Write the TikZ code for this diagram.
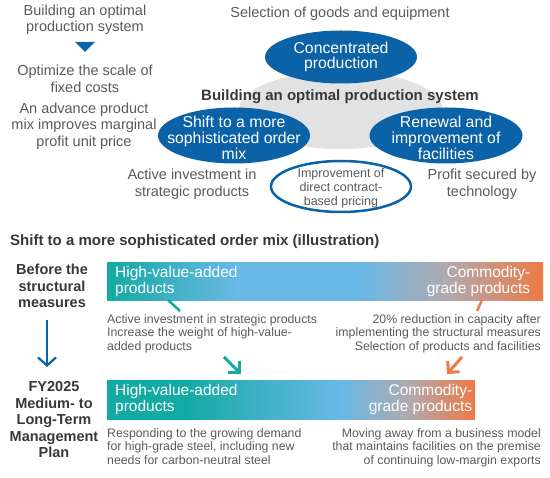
\documentclass[tikz,border=0pt]{standalone}
\usepackage{fontspec}
\setmainfont{Liberation Sans}
\usetikzlibrary{shapes.geometric,arrows.meta}
\definecolor{cblue}{HTML}{0B62A6}
\definecolor{cgray}{HTML}{E2E2E2}
\definecolor{ctext}{HTML}{5A5A5A}
\definecolor{cbold}{HTML}{383838}
\definecolor{cteal}{HTML}{12AAA2}
\definecolor{clblue}{HTML}{6BB9E6}
\definecolor{cmid}{HTML}{B0A9AE}
\definecolor{corange}{HTML}{EE7A45}
\pgfdeclarehorizontalshading{barA}{100bp}{color(0bp)=(cteal); color(25bp)=(cteal); color(40bp)=(clblue); color(54bp)=(clblue); color(64bp)=(cmid); color(75bp)=(corange); color(100bp)=(corange)}
\pgfdeclarehorizontalshading{barB}{100bp}{color(0bp)=(cteal); color(25bp)=(cteal); color(35bp)=(cteal); color(57bp)=(clblue); color(66bp)=(cmid); color(75bp)=(corange); color(100bp)=(corange)}
\tikzset{
  grtxt/.style={inner sep=0pt, align=center, text=ctext, font=\fontsize{14.5}{16.5}\selectfont},
  boldtxt/.style={inner sep=0pt, align=center, text=cbold, font=\bfseries\fontsize{14.5}{16.5}\selectfont},
  bigbold/.style={inner sep=0pt, align=center, text=cbold, font=\bfseries\fontsize{15}{16.5}\selectfont},
  smtxt/.style={inner sep=0pt, text=ctext, font=\fontsize{12.3}{13.8}\selectfont},
  blueell/.style={ellipse, fill=cblue, inner sep=0pt},
  elltxt/.style={inner sep=0pt, align=center, text=white, font=\fontsize{15.8}{15.8}\selectfont},
  bartxt/.style={inner sep=0pt, text=white, font=\fontsize{15.5}{16}\selectfont},
  barbox/.style={shade, inner sep=0pt, anchor=north west},
  tealarr/.style={draw=cteal, line width=3pt, -{Straight Barb[length=8pt,width=16pt]}},
  orarr/.style={draw=corange, line width=3pt, -{Straight Barb[length=8pt,width=16pt]}},
}
\begin{document}
\begin{tikzpicture}[x=1pt,y=-1pt]
\useasboundingbox (0,0) rectangle (550,478);
% ---- top diagram ----
\node[ellipse, fill=cgray, inner sep=0pt, minimum width=204pt, minimum height=78pt] (hub) at (341,110) {};
\node[blueell, minimum width=152pt, minimum height=53pt] (conc) at (341,57) {};
\node[elltxt] (conct) at (341,57) {Concentrated\\production};
\node[blueell, minimum width=152pt, minimum height=56pt] (shift) at (234,135.5) {};
\node[elltxt] (shiftt) at (234,138) {Shift to a more\\sophisticated order\\mix};
\node[blueell, minimum width=153pt, minimum height=56pt] (renew) at (446,135.5) {};
\node[elltxt] (renewt) at (446,138) {Renewal and\\improvement of\\facilities};
\node[ellipse, draw=cblue, line width=2.5pt, fill=white, inner sep=0pt, minimum width=140pt, minimum height=51pt] (impr) at (341,186.5) {};
\node[inner sep=0pt, align=center, text=ctext, font=\fontsize{12.5}{13.8}\selectfont] (imprt) at (341,188) {Improvement of\\direct contract-\\based pricing};
\node[bigbold] (hubt) at (340,97) {Building an optimal production system};
\node[grtxt] (sel) at (340,14) {Selection of goods and equipment};
\node[grtxt] (act) at (192,184.5) {Active investment in\\strategic products};
\node[grtxt] (prof) at (482,184.5) {Profit secured by\\technology};
% ---- left column ----
\node[grtxt] (bops) at (85,20) {Building an optimal\\production system};
\fill[cblue] (75,42) -- (95,42) -- (85,52) -- cycle;
\node[grtxt] (opt) at (85,79) {Optimize the scale of\\fixed costs};
\node[grtxt] (adv) at (84,126) {An advance product\\mix improves marginal\\profit unit price};
% ---- bottom section ----
\node[bigbold, anchor=west] (title) at (10,242) {Shift to a more sophisticated order mix (illustration)};
\node[boldtxt] (before) at (52,286) {Before the\\structural\\measures};
\node[boldtxt] (fy) at (54,420) {FY2025\\Medium- to\\Long-Term\\Management\\Plan};
\coordinate (ba1) at (47,320);
\coordinate (ba2) at (47,367);
\draw[draw=cblue, line width=2.3pt, -{Straight Barb[length=8pt,width=18pt]}] (ba1) -- (ba2);
% bar 1
\node[barbox, shading=barA, minimum width=436pt, minimum height=38pt] (barA) at (107,262) {};
\node[bartxt, anchor=west, align=left] (hvaA) at ([xshift=8pt]barA.west) {High-value-added\\products};
\node[bartxt, anchor=east, align=right] (comA) at ([xshift=-13pt]barA.east) {Commodity-\\grade products};
% bar 2
\node[barbox, shading=barB, minimum width=368pt, minimum height=39pt] (barB) at (107,380) {};
\node[bartxt, anchor=west, align=left] (hvaB) at ([xshift=8pt]barB.west) {High-value-added\\products};
\node[bartxt, anchor=east, align=right] (comB) at ([xshift=-3pt]barB.east) {Commodity-\\grade products};
% tails
\coordinate (tt1) at (168,300);
\coordinate (tt2) at (180,311);
\draw[draw=cteal, line width=2.5pt] (tt1) -- (tt2);
\coordinate (ot1) at (482,300);
\coordinate (ot2) at (477,311);
\draw[draw=corange, line width=2.5pt] (ot1) -- (ot2);
% texts
\node[smtxt, anchor=north west, align=left] (la) at (107,314) {Active investment in strategic products\\Increase the weight of high-value-\\added products};
\node[smtxt, anchor=north east, align=right] (ra) at (541,314) {20\% reduction in capacity after\\implementing the structural measures\\Selection of products and facilities};
\node[smtxt, anchor=north west, align=left] (lb) at (107,428) {Responding to the growing demand\\for high-grade steel, including new\\needs for carbon-neutral steel};
\node[smtxt, anchor=north east, align=right] (rb) at (541,428) {Moving away from a business model\\that maintains facilities on the premise\\of continuing low-margin exports};
% diagonal arrows
\coordinate (ta1) at (224,357);
\coordinate (ta2) at (241,374);
\draw[tealarr] (ta1) -- (ta2);
\coordinate (oa1) at (462,357);
\coordinate (oa2) at (447,374);
\draw[orarr] (oa1) -- (oa2);
\end{tikzpicture}
\end{document}
